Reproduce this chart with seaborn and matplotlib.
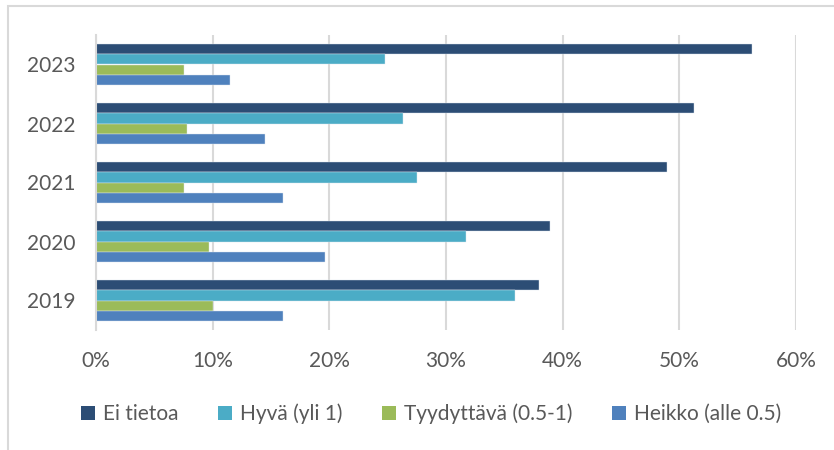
import matplotlib.pyplot as plt
import seaborn as sns
import pandas as pd
from matplotlib.patches import Rectangle, Patch
from matplotlib.ticker import FuncFormatter

# Data (percent)
years = ["2023", "2022", "2021", "2020", "2019"]
series = ["Ei tietoa", "Hyvä (yli 1)", "Tyydyttävä (0.5-1)", "Heikko (alle 0.5)"]
ei_tietoa = [56.2, 51.3, 48.9, 38.9, 38.0]
hyva = [24.8, 26.3, 27.5, 31.7, 35.9]
tyydyttava = [7.5, 7.8, 7.5, 9.7, 10.0]
heikko = [11.5, 14.5, 16.0, 19.6, 16.0]
colors = ["#2C4D75", "#4BACC6", "#9BBB59", "#4F81BD"]

rows = []
for name, vals in zip(series, [ei_tietoa, hyva, tyydyttava, heikko]):
    for y, v in zip(years, vals):
        rows.append({"Vuosi": y, "Sarja": name, "Osuus": v})
df = pd.DataFrame(rows)

sns.set_style("white")
plt.rcParams["font.family"] = ["Lato", "DejaVu Sans"]
text_color = "#595959"

fig = plt.figure(figsize=(8.34, 4.5), dpi=100)
ax = fig.add_axes([96 / 834, 1 - 330 / 450, 700 / 834, 295 / 450])

sns.barplot(data=df, x="Osuus", y="Vuosi", hue="Sarja", order=years,
            hue_order=series, palette=colors, orient="h", width=0.68,
            saturation=1, edgecolor="#DDE6EE", linewidth=0.3, ax=ax, legend=False)

ax.set_xlim(0, 60)
ax.set_xticks(range(0, 61, 10))
ax.xaxis.set_major_formatter(FuncFormatter(lambda v, p: f"{v:.0f}%"))
ax.set_ylim(4.5, -0.5)
ax.grid(axis="x", color="#D9D9D9", linewidth=1.5)
ax.set_axisbelow(True)
for s in ["top", "right", "bottom"]:
    ax.spines[s].set_visible(False)
ax.spines["left"].set_color("#D9D9D9")
ax.spines["left"].set_linewidth(1.5)
ax.set_xlabel("")
ax.set_ylabel("")
ax.tick_params(axis="x", length=0, pad=15, labelsize=15, labelcolor=text_color)
ax.tick_params(axis="y", length=0, pad=15, labelsize=15, labelcolor=text_color)

handles = [Patch(facecolor=c, edgecolor="none") for c in colors]
fig.legend(handles, series, loc="center", bbox_to_anchor=(0.517, 0.08), ncol=4,
           frameon=False, fontsize=15, labelcolor=text_color,
           handlelength=0.65, handleheight=0.65, handletextpad=0.4, columnspacing=1.9)

fig.patches.append(Rectangle((8 / 834, -0.1), 1.2, 1 - 6 / 450 + 0.1,
                             transform=fig.transFigure, fill=False,
                             edgecolor="#D9D9D9", linewidth=1.5))

fig.savefig("out.png", dpi=100)
